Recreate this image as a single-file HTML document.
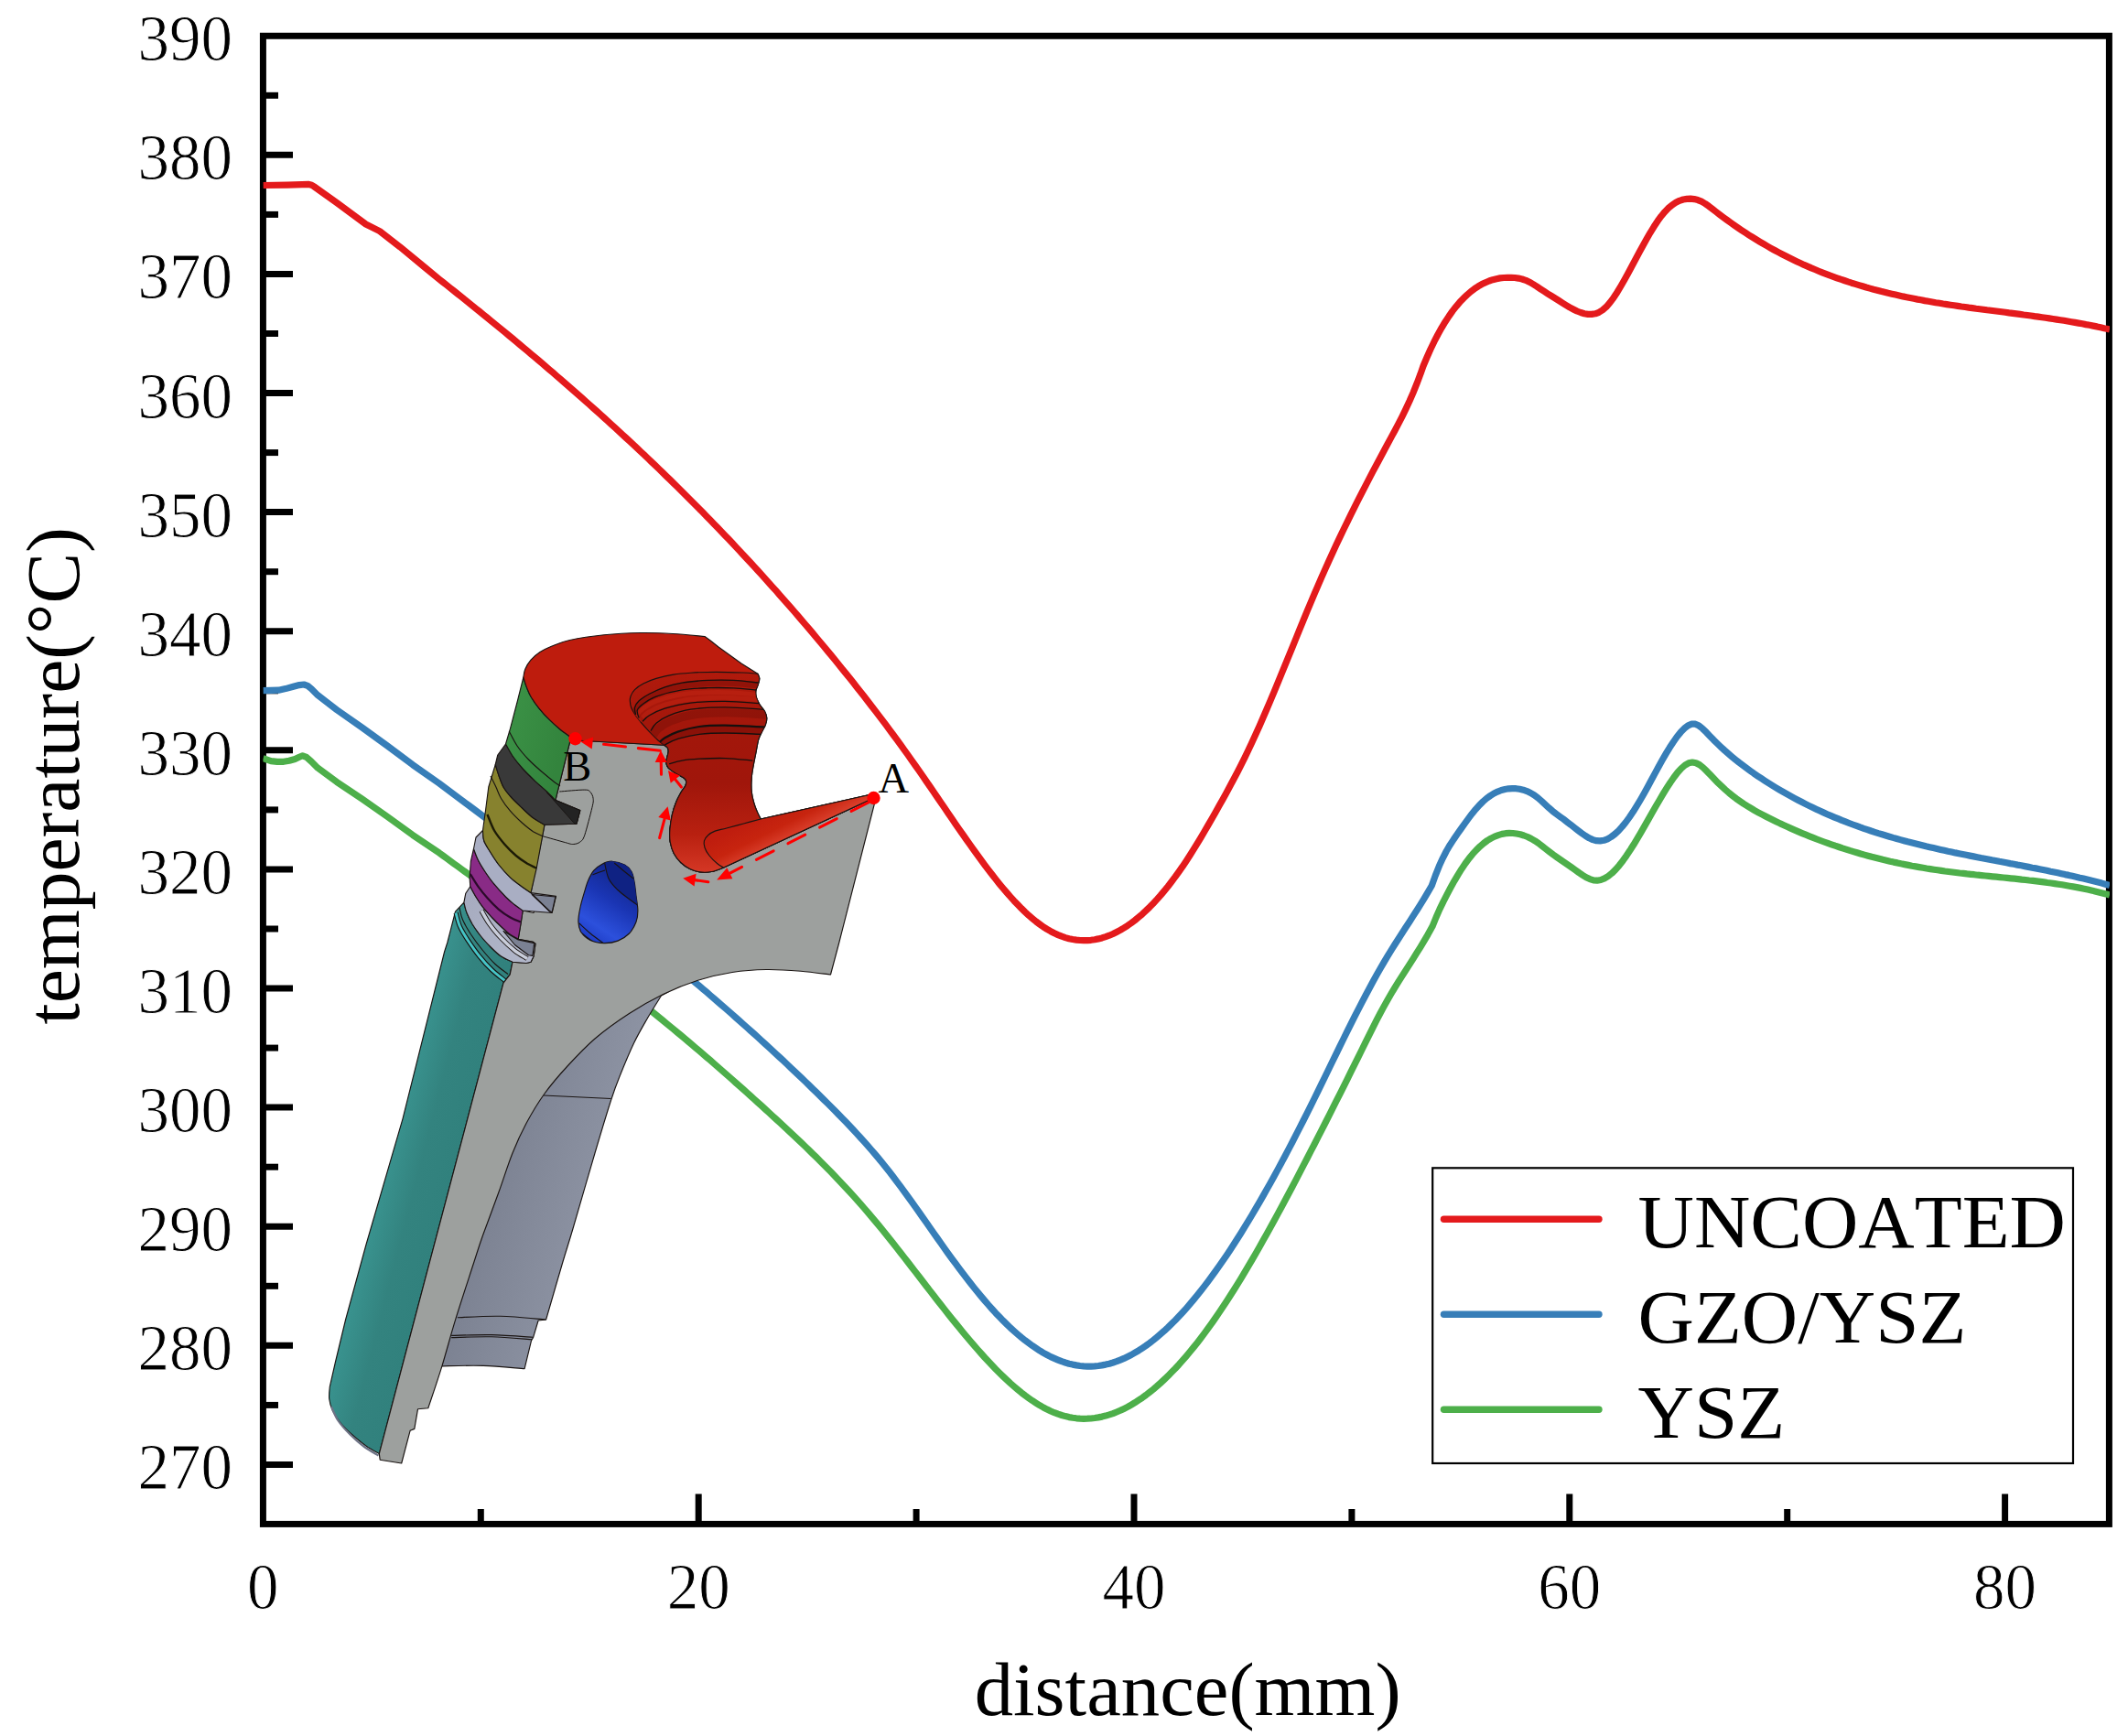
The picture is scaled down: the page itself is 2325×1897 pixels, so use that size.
<!DOCTYPE html>
<html lang="en"><head><meta charset="utf-8"><title>temperature vs distance</title>
<style>
html,body{margin:0;padding:0;background:#fff}
body{width:2325px;height:1897px;overflow:hidden}
svg{display:block}
text{font-kerning:none;font-variant-ligatures:none}
.tk{font-family:"Liberation Serif","Noto Serif CJK SC",serif;font-size:71px;fill:#000;stroke:#fff;stroke-width:.9px}
.tt{font-family:"Liberation Serif",serif;font-size:83.5px;fill:#000}
.lb{font-family:"Liberation Serif",serif;font-size:46.5px;fill:#000}
</style></head><body>
<svg width="2325" height="1897" viewBox="0 0 2325 1897">
<rect width="2325" height="1897" fill="#fff"/>
<defs><clipPath id="pc"><rect x="287.4" y="39.25" width="2017.6" height="1626.15"/></clipPath></defs>

<g stroke="#000" stroke-width="7.0" fill="none">
<path d="M287.4,1600.4H320"/>
<path d="M287.4,1470.3H320"/>
<path d="M287.4,1340.2H320"/>
<path d="M287.4,1210.1H320"/>
<path d="M287.4,1080.0H320"/>
<path d="M287.4,949.9H320"/>
<path d="M287.4,819.8H320"/>
<path d="M287.4,689.7H320"/>
<path d="M287.4,559.6H320"/>
<path d="M287.4,429.5H320"/>
<path d="M287.4,299.4H320"/>
<path d="M287.4,169.3H320"/>
<path d="M287.4,1535.4H304"/>
<path d="M287.4,1405.3H304"/>
<path d="M287.4,1275.2H304"/>
<path d="M287.4,1145.1H304"/>
<path d="M287.4,1015.0H304"/>
<path d="M287.4,884.9H304"/>
<path d="M287.4,754.8H304"/>
<path d="M287.4,624.7H304"/>
<path d="M287.4,494.6H304"/>
<path d="M287.4,364.5H304"/>
<path d="M287.4,234.4H304"/>
<path d="M287.4,104.3H304"/>
<path d="M763.2,1665.4V1632.5"/>
<path d="M1239.0,1665.4V1632.5"/>
<path d="M1714.8,1665.4V1632.5"/>
<path d="M2190.6,1665.4V1632.5"/>
<path d="M525.3,1665.4V1649"/>
<path d="M1001.1,1665.4V1649"/>
<path d="M1476.9,1665.4V1649"/>
<path d="M1952.7,1665.4V1649"/>
<rect x="287.4" y="39.25" width="2017.0" height="1626.15"/>
</g>
<g clip-path="url(#pc)" fill="none" stroke-linejoin="round" stroke-width="7.2">
<path d="M287.4,828.6L296.1,831.6L303.0,832.4L309.9,832.3L316.0,831.3L322.3,829.5L327.0,827.3L330.6,825.8L334.8,827.4L340.0,832.0L347.2,839.2L367.9,854.4L395.6,873.1L423.2,892.4L450.9,912.4L480.0,932.1L484.0,935.0L488.0,937.9L492.0,940.9L496.0,943.8L500.0,946.7L504.0,949.6L508.0,952.5L512.0,955.4L516.0,958.3L520.0,961.2L524.0,964.1L528.0,967.0L532.0,969.9L536.0,972.8L540.0,975.7L544.0,978.6L548.0,981.5L552.0,984.4L556.0,987.3L560.0,990.2L564.0,993.1L568.0,996.0L572.0,998.9L576.0,1001.8L580.0,1004.8L584.0,1007.7L588.0,1010.6L592.0,1013.5L596.0,1016.5L600.0,1019.4L604.0,1022.4L608.0,1025.3L612.0,1028.3L616.0,1031.2L620.0,1034.2L624.0,1037.2L628.0,1040.2L632.0,1043.1L636.0,1046.1L640.0,1049.2L644.0,1052.2L648.0,1055.2L652.0,1058.2L656.0,1061.3L660.0,1064.3L664.0,1067.4L668.0,1070.5L672.0,1073.6L676.0,1076.7L680.0,1079.8L684.0,1082.9L688.0,1086.0L692.0,1089.2L696.0,1092.4L700.0,1095.5L704.0,1098.7L708.0,1101.9L712.0,1105.1L716.0,1108.4L720.0,1111.6L724.0,1114.9L728.0,1118.2L732.0,1121.5L736.0,1124.8L740.0,1128.1L744.0,1131.4L748.0,1134.8L752.0,1138.1L756.0,1141.5L760.0,1144.9L764.0,1148.3L768.0,1151.7L772.0,1155.2L776.0,1158.6L780.0,1162.1L784.0,1165.6L788.0,1169.1L792.0,1172.6L796.0,1176.1L800.0,1179.6L804.0,1183.2L808.0,1186.7L812.0,1190.3L816.0,1193.9L820.0,1197.5L824.0,1201.1L828.0,1204.7L832.0,1208.3L836.0,1212.0L840.0,1215.6L844.0,1219.3L848.0,1223.0L852.0,1226.7L856.0,1230.4L860.0,1234.1L864.0,1237.9L868.0,1241.6L872.0,1245.4L876.0,1249.2L880.0,1253.0L884.0,1256.9L888.0,1260.8L892.0,1264.7L896.0,1268.7L900.0,1272.7L904.0,1276.8L908.0,1280.8L912.0,1285.0L916.0,1289.2L920.0,1293.4L924.0,1297.7L928.0,1302.0L932.0,1306.4L936.0,1310.9L940.0,1315.4L944.0,1320.0L948.0,1324.6L952.0,1329.3L956.0,1334.1L960.0,1338.9L964.0,1343.8L968.0,1348.8L972.0,1353.8L976.0,1358.8L980.0,1363.9L984.0,1369.0L988.0,1374.1L992.0,1379.3L996.0,1384.5L1000.0,1389.6L1004.0,1394.8L1008.0,1400.0L1012.0,1405.2L1016.0,1410.4L1020.0,1415.5L1024.0,1420.7L1028.0,1425.8L1032.0,1430.9L1036.0,1435.9L1040.0,1441.0L1044.0,1445.9L1048.0,1450.8L1052.0,1455.7L1056.0,1460.5L1060.0,1465.3L1064.0,1469.9L1068.0,1474.5L1072.0,1479.0L1076.0,1483.5L1080.0,1487.8L1084.0,1492.0L1088.0,1496.2L1092.0,1500.2L1096.0,1504.1L1100.0,1507.9L1104.0,1511.6L1108.0,1515.1L1112.0,1518.5L1116.0,1521.8L1120.0,1524.9L1124.0,1527.8L1128.0,1530.6L1132.0,1533.2L1136.0,1535.7L1140.0,1538.0L1144.0,1540.1L1148.0,1542.0L1152.0,1543.7L1156.0,1545.2L1160.0,1546.5L1164.0,1547.6L1168.0,1548.6L1172.0,1549.3L1176.0,1549.8L1180.0,1550.1L1184.0,1550.3L1188.0,1550.2L1192.0,1550.0L1196.0,1549.5L1200.0,1548.9L1204.0,1548.1L1208.0,1547.1L1212.0,1545.9L1216.0,1544.6L1220.0,1543.0L1224.0,1541.3L1228.0,1539.4L1232.0,1537.4L1236.0,1535.1L1240.0,1532.7L1244.0,1530.1L1248.0,1527.4L1252.0,1524.5L1256.0,1521.4L1260.0,1518.2L1264.0,1514.8L1268.0,1511.2L1272.0,1507.5L1276.0,1503.7L1280.0,1499.6L1284.0,1495.5L1288.0,1491.2L1292.0,1486.7L1296.0,1482.1L1300.0,1477.3L1304.0,1472.4L1308.0,1467.4L1312.0,1462.2L1316.0,1456.9L1320.0,1451.4L1324.0,1445.9L1328.0,1440.1L1332.0,1434.3L1336.0,1428.3L1340.0,1422.2L1344.0,1416.0L1348.0,1409.7L1352.0,1403.3L1356.0,1396.8L1360.0,1390.1L1364.0,1383.4L1368.0,1376.6L1372.0,1369.7L1376.0,1362.7L1380.0,1355.6L1384.0,1348.5L1388.0,1341.3L1392.0,1334.0L1396.0,1326.6L1400.0,1319.2L1404.0,1311.8L1408.0,1304.2L1412.0,1296.7L1416.0,1289.1L1420.0,1281.4L1424.0,1273.7L1428.0,1266.0L1432.0,1258.2L1436.0,1250.5L1440.0,1242.7L1444.0,1234.8L1448.0,1227.0L1452.0,1219.1L1456.0,1211.2L1460.0,1203.2L1464.0,1195.3L1468.0,1187.3L1472.0,1179.3L1476.0,1171.2L1480.0,1163.2L1484.0,1155.1L1488.0,1147.0L1492.0,1138.9L1496.0,1130.8L1500.0,1122.8L1504.0,1114.9L1508.0,1107.3L1512.0,1099.9L1516.0,1092.7L1520.0,1085.8L1524.0,1079.2L1528.0,1072.7L1532.0,1066.4L1536.0,1060.1L1540.0,1053.9L1544.0,1047.6L1548.0,1041.2L1552.0,1034.8L1556.0,1028.1L1560.0,1021.3L1564.0,1014.1L1565.0,1012.3L1569.0,1002.5L1573.0,993.4L1577.0,985.1L1581.0,977.3L1585.0,969.8L1589.0,962.6L1593.0,955.8L1597.0,949.4L1601.0,943.5L1605.0,938.1L1609.0,933.2L1613.0,928.8L1617.0,924.9L1621.0,921.5L1625.0,918.5L1629.0,916.1L1633.0,914.1L1637.0,912.6L1641.0,911.4L1645.0,910.7L1649.0,910.4L1653.0,910.5L1657.0,911.0L1661.0,911.8L1665.0,913.0L1669.0,914.5L1673.0,916.5L1677.0,918.8L1681.0,921.5L1685.0,924.6L1689.0,927.8L1693.0,930.9L1697.0,933.9L1701.0,936.7L1705.0,939.5L1709.0,942.2L1713.0,944.9L1717.0,947.7L1721.0,950.6L1725.0,953.5L1729.0,956.2L1733.0,958.7L1737.0,960.6L1741.0,961.9L1745.0,962.2L1749.0,961.5L1753.0,959.9L1757.0,957.5L1761.0,954.3L1765.0,950.4L1769.0,945.8L1773.0,940.7L1777.0,935.1L1781.0,929.1L1785.0,922.8L1789.0,916.1L1793.0,909.3L1797.0,902.4L1801.0,895.4L1805.0,888.3L1809.0,881.3L1813.0,874.5L1817.0,867.7L1821.0,861.2L1825.0,855.0L1829.0,849.2L1833.0,844.0L1837.0,839.6L1841.0,836.1L1845.0,833.8L1849.0,833.0L1853.0,833.7L1857.0,835.8L1861.0,839.0L1865.0,842.9L1869.0,847.1L1873.0,851.3L1877.0,855.4L1881.0,859.2L1885.0,862.9L1889.0,866.4L1893.0,869.6L1897.0,872.7L1901.0,875.5L1905.0,878.3L1909.0,880.8L1913.0,883.2L1917.0,885.6L1921.0,887.8L1925.0,889.9L1929.0,892.0L1933.0,894.0L1937.0,896.0L1941.0,897.9L1945.0,899.9L1949.0,901.7L1953.0,903.6L1957.0,905.4L1961.0,907.1L1965.0,908.9L1969.0,910.6L1973.0,912.2L1977.0,913.8L1981.0,915.4L1985.0,917.0L1989.0,918.5L1993.0,920.0L1997.0,921.4L2001.0,922.8L2005.0,924.2L2009.0,925.5L2013.0,926.9L2017.0,928.1L2021.0,929.4L2025.0,930.6L2029.0,931.8L2033.0,933.0L2037.0,934.1L2041.0,935.2L2045.0,936.3L2049.0,937.3L2053.0,938.3L2057.0,939.3L2061.0,940.2L2065.0,941.2L2069.0,942.1L2073.0,942.9L2077.0,943.8L2081.0,944.6L2085.0,945.4L2089.0,946.2L2093.0,946.9L2097.0,947.6L2101.0,948.3L2105.0,949.0L2109.0,949.6L2113.0,950.2L2117.0,950.8L2121.0,951.4L2125.0,952.0L2129.0,952.5L2133.0,953.0L2137.0,953.5L2141.0,954.0L2145.0,954.4L2149.0,954.9L2153.0,955.3L2157.0,955.7L2161.0,956.2L2165.0,956.6L2169.0,957.0L2173.0,957.4L2177.0,957.8L2181.0,958.2L2185.0,958.6L2189.0,959.0L2193.0,959.4L2197.0,959.8L2201.0,960.2L2205.0,960.6L2209.0,961.1L2213.0,961.5L2217.0,962.0L2221.0,962.4L2225.0,962.9L2229.0,963.4L2233.0,963.9L2237.0,964.5L2241.0,965.0L2245.0,965.6L2249.0,966.2L2253.0,966.8L2257.0,967.5L2261.0,968.2L2265.0,968.9L2269.0,969.6L2273.0,970.4L2277.0,971.2L2281.0,972.1L2285.0,973.0L2289.0,973.9L2293.0,974.9L2297.0,975.9L2301.0,976.9L2305.0,978.0" stroke="#4daf4a"/>
<path d="M287.4,754.6L304.4,754.2L312.0,752.6L319.6,750.5L327.0,748.6L332.0,748.0L336.1,749.4L340.0,752.5L347.2,759.7L367.9,775.6L395.6,795.0L423.2,815.0L450.9,835.7L480.0,856.1L484.0,859.1L488.0,862.1L492.0,865.1L496.0,868.1L500.0,871.1L504.0,874.1L508.0,877.1L512.0,880.0L516.0,883.0L520.0,886.0L524.0,889.0L528.0,892.0L532.0,895.0L536.0,898.0L540.0,901.0L544.0,904.0L548.0,907.0L552.0,910.0L556.0,913.0L560.0,916.0L564.0,919.1L568.0,922.1L572.0,925.1L576.0,928.1L580.0,931.1L584.0,934.2L588.0,937.2L592.0,940.2L596.0,943.3L600.0,946.3L604.0,949.4L608.0,952.4L612.0,955.5L616.0,958.5L620.0,961.6L624.0,964.7L628.0,967.8L632.0,970.9L636.0,973.9L640.0,977.0L644.0,980.2L648.0,983.3L652.0,986.4L656.0,989.5L660.0,992.6L664.0,995.8L668.0,998.9L672.0,1002.1L676.0,1005.3L680.0,1008.4L684.0,1011.6L688.0,1014.8L692.0,1018.0L696.0,1021.2L700.0,1024.4L704.0,1027.7L708.0,1030.9L712.0,1034.1L716.0,1037.4L720.0,1040.7L724.0,1043.9L728.0,1047.2L732.0,1050.5L736.0,1053.8L740.0,1057.2L744.0,1060.5L748.0,1063.8L752.0,1067.2L756.0,1070.5L760.0,1073.9L764.0,1077.3L768.0,1080.7L772.0,1084.1L776.0,1087.6L780.0,1091.0L784.0,1094.5L788.0,1097.9L792.0,1101.4L796.0,1104.9L800.0,1108.4L804.0,1112.0L808.0,1115.5L812.0,1119.1L816.0,1122.6L820.0,1126.2L824.0,1129.8L828.0,1133.4L832.0,1137.1L836.0,1140.7L840.0,1144.4L844.0,1148.1L848.0,1151.8L852.0,1155.5L856.0,1159.2L860.0,1163.0L864.0,1166.8L868.0,1170.6L872.0,1174.4L876.0,1178.2L880.0,1182.0L884.0,1185.9L888.0,1189.8L892.0,1193.7L896.0,1197.6L900.0,1201.6L904.0,1205.5L908.0,1209.5L912.0,1213.6L916.0,1217.6L920.0,1221.7L924.0,1225.8L928.0,1230.0L932.0,1234.3L936.0,1238.6L940.0,1243.0L944.0,1247.4L948.0,1251.9L952.0,1256.5L956.0,1261.2L960.0,1265.9L964.0,1270.8L968.0,1275.8L972.0,1280.8L976.0,1286.0L980.0,1291.3L984.0,1296.6L988.0,1302.1L992.0,1307.6L996.0,1313.1L1000.0,1318.8L1004.0,1324.4L1008.0,1330.1L1012.0,1335.8L1016.0,1341.5L1020.0,1347.2L1024.0,1352.9L1028.0,1358.5L1032.0,1364.2L1036.0,1369.8L1040.0,1375.3L1044.0,1380.7L1048.0,1386.1L1052.0,1391.4L1056.0,1396.7L1060.0,1401.8L1064.0,1406.9L1068.0,1411.8L1072.0,1416.6L1076.0,1421.4L1080.0,1426.0L1084.0,1430.5L1088.0,1434.9L1092.0,1439.1L1096.0,1443.2L1100.0,1447.1L1104.0,1451.0L1108.0,1454.6L1112.0,1458.1L1116.0,1461.5L1120.0,1464.7L1124.0,1467.7L1128.0,1470.6L1132.0,1473.3L1136.0,1475.9L1140.0,1478.3L1144.0,1480.5L1148.0,1482.6L1152.0,1484.4L1156.0,1486.1L1160.0,1487.7L1164.0,1489.0L1168.0,1490.2L1172.0,1491.1L1176.0,1491.9L1180.0,1492.5L1184.0,1492.9L1188.0,1493.1L1192.0,1493.1L1196.0,1492.9L1200.0,1492.5L1204.0,1491.9L1208.0,1491.1L1212.0,1490.2L1216.0,1489.0L1220.0,1487.7L1224.0,1486.1L1228.0,1484.4L1232.0,1482.5L1236.0,1480.5L1240.0,1478.2L1244.0,1475.8L1248.0,1473.2L1252.0,1470.5L1256.0,1467.6L1260.0,1464.5L1264.0,1461.2L1268.0,1457.8L1272.0,1454.3L1276.0,1450.6L1280.0,1446.7L1284.0,1442.7L1288.0,1438.5L1292.0,1434.2L1296.0,1429.8L1300.0,1425.2L1304.0,1420.4L1308.0,1415.5L1312.0,1410.5L1316.0,1405.4L1320.0,1400.1L1324.0,1394.7L1328.0,1389.2L1332.0,1383.5L1336.0,1377.8L1340.0,1371.9L1344.0,1365.9L1348.0,1359.8L1352.0,1353.5L1356.0,1347.2L1360.0,1340.7L1364.0,1334.2L1368.0,1327.5L1372.0,1320.7L1376.0,1313.9L1380.0,1306.9L1384.0,1299.8L1388.0,1292.7L1392.0,1285.5L1396.0,1278.1L1400.0,1270.7L1404.0,1263.2L1408.0,1255.6L1412.0,1248.0L1416.0,1240.2L1420.0,1232.4L1424.0,1224.5L1428.0,1216.6L1432.0,1208.6L1436.0,1200.5L1440.0,1192.3L1444.0,1184.2L1448.0,1176.0L1452.0,1167.7L1456.0,1159.5L1460.0,1151.3L1464.0,1143.1L1468.0,1135.0L1472.0,1126.9L1476.0,1118.9L1480.0,1110.9L1484.0,1103.1L1488.0,1095.3L1492.0,1087.7L1496.0,1080.2L1500.0,1072.8L1504.0,1065.6L1508.0,1058.5L1512.0,1051.6L1516.0,1044.9L1520.0,1038.4L1524.0,1032.0L1528.0,1025.7L1532.0,1019.5L1536.0,1013.3L1540.0,1007.2L1544.0,1000.9L1548.0,994.7L1552.0,988.3L1556.0,981.8L1560.0,975.1L1564.3,967.7L1568.3,956.6L1572.3,946.6L1576.3,937.8L1580.3,930.0L1584.3,923.2L1588.3,917.1L1592.3,911.3L1596.3,905.6L1600.3,900.0L1604.3,894.5L1608.3,889.2L1612.3,884.3L1616.3,879.8L1620.3,875.9L1624.3,872.4L1628.3,869.5L1632.3,867.0L1636.3,865.1L1640.3,863.5L1644.3,862.5L1648.3,861.8L1652.3,861.6L1656.3,861.7L1660.3,862.3L1664.3,863.2L1668.3,864.6L1672.3,866.5L1676.3,868.9L1680.3,871.9L1684.3,875.4L1688.3,879.1L1692.3,882.8L1696.3,886.3L1700.3,889.4L1704.3,892.3L1708.3,895.2L1712.3,898.3L1716.3,901.3L1720.3,904.5L1724.3,907.6L1728.3,910.6L1732.3,913.4L1736.3,915.8L1740.3,917.6L1744.3,918.7L1748.3,918.9L1752.3,918.3L1756.3,916.8L1760.3,914.5L1764.3,911.5L1768.3,907.8L1772.3,903.4L1776.3,898.5L1780.3,893.0L1784.3,887.1L1788.3,880.7L1792.3,874.0L1796.3,867.0L1800.3,859.7L1804.3,852.3L1808.3,844.9L1812.3,837.5L1816.3,830.3L1820.3,823.4L1824.3,816.8L1828.3,810.7L1832.3,805.0L1836.3,800.1L1840.3,795.9L1844.3,792.8L1848.3,791.2L1852.3,791.2L1856.3,793.1L1860.3,796.3L1864.3,800.2L1868.3,804.4L1872.3,808.6L1876.3,812.5L1880.3,816.3L1884.3,820.0L1888.3,823.5L1892.3,826.9L1896.3,830.2L1900.3,833.4L1904.3,836.4L1908.3,839.4L1912.3,842.3L1916.3,845.2L1920.3,847.9L1924.3,850.6L1928.3,853.2L1932.3,855.7L1936.3,858.2L1940.3,860.7L1944.3,863.1L1948.3,865.4L1952.3,867.7L1956.3,869.9L1960.3,872.1L1964.3,874.2L1968.3,876.3L1972.3,878.4L1976.3,880.4L1980.3,882.3L1984.3,884.2L1988.3,886.1L1992.3,887.9L1996.3,889.7L2000.3,891.4L2004.3,893.1L2008.3,894.7L2012.3,896.4L2016.3,897.9L2020.3,899.5L2024.3,901.0L2028.3,902.4L2032.3,903.9L2036.3,905.3L2040.3,906.6L2044.3,908.0L2048.3,909.3L2052.3,910.6L2056.3,911.8L2060.3,913.0L2064.3,914.2L2068.3,915.4L2072.3,916.5L2076.3,917.6L2080.3,918.7L2084.3,919.8L2088.3,920.8L2092.3,921.8L2096.3,922.8L2100.3,923.8L2104.3,924.8L2108.3,925.7L2112.3,926.6L2116.3,927.5L2120.3,928.4L2124.3,929.3L2128.3,930.2L2132.3,931.0L2136.3,931.9L2140.3,932.7L2144.3,933.5L2148.3,934.3L2152.3,935.1L2156.3,935.9L2160.3,936.7L2164.3,937.5L2168.3,938.2L2172.3,939.0L2176.3,939.8L2180.3,940.5L2184.3,941.3L2188.3,942.0L2192.3,942.8L2196.3,943.6L2200.3,944.3L2204.3,945.1L2208.3,945.8L2212.3,946.6L2216.3,947.4L2220.3,948.2L2224.3,948.9L2228.3,949.7L2232.3,950.5L2236.3,951.3L2240.3,952.2L2244.3,953.0L2248.3,953.8L2252.3,954.7L2256.3,955.6L2260.3,956.4L2264.3,957.3L2268.3,958.2L2272.3,959.2L2276.3,960.1L2280.3,961.1L2284.3,962.1L2288.3,963.1L2292.3,964.1L2296.3,965.1L2300.3,966.2L2304.3,967.3L2305.0,967.5" stroke="#377eb8"/>
<path d="M287.4,202.5L314.0,202.1L330.0,201.6L337.5,201.4L340.5,202.2L343.0,203.8L367.9,221.5L399.7,245.0L414.9,252.6L437.0,269.8L464.7,292.6L480.0,305.2L484.0,308.4L488.0,311.5L492.0,314.7L496.0,317.9L500.0,321.1L504.0,324.3L508.0,327.5L512.0,330.7L516.0,334.0L520.0,337.2L524.0,340.4L528.0,343.7L532.0,346.9L536.0,350.2L540.0,353.5L544.0,356.7L548.0,360.0L552.0,363.3L556.0,366.6L560.0,369.9L564.0,373.3L568.0,376.6L572.0,380.0L576.0,383.3L580.0,386.7L584.0,390.1L588.0,393.4L592.0,396.8L596.0,400.3L600.0,403.7L604.0,407.1L608.0,410.6L612.0,414.0L616.0,417.5L620.0,421.0L624.0,424.5L628.0,428.0L632.0,431.5L636.0,435.0L640.0,438.6L644.0,442.1L648.0,445.7L652.0,449.3L656.0,452.9L660.0,456.5L664.0,460.1L668.0,463.8L672.0,467.4L676.0,471.1L680.0,474.8L684.0,478.5L688.0,482.2L692.0,485.9L696.0,489.7L700.0,493.5L704.0,497.2L708.0,501.0L712.0,504.9L716.0,508.7L720.0,512.5L724.0,516.4L728.0,520.3L732.0,524.2L736.0,528.1L740.0,532.0L744.0,536.0L748.0,540.0L752.0,544.0L756.0,548.0L760.0,552.0L764.0,556.0L768.0,560.1L772.0,564.2L776.0,568.3L780.0,572.4L784.0,576.6L788.0,580.7L792.0,584.9L796.0,589.1L800.0,593.3L804.0,597.6L808.0,601.9L812.0,606.2L816.0,610.5L820.0,614.8L824.0,619.2L828.0,623.5L832.0,627.9L836.0,632.3L840.0,636.8L844.0,641.3L848.0,645.7L852.0,650.3L856.0,654.8L860.0,659.3L864.0,663.9L868.0,668.5L872.0,673.2L876.0,677.8L880.0,682.5L884.0,687.2L888.0,691.9L892.0,696.7L896.0,701.5L900.0,706.3L904.0,711.1L908.0,715.9L912.0,720.8L916.0,725.7L920.0,730.7L924.0,735.6L928.0,740.6L932.0,745.6L936.0,750.7L940.0,755.7L944.0,760.8L948.0,766.0L952.0,771.2L956.0,776.4L960.0,781.6L964.0,786.9L968.0,792.2L972.0,797.6L976.0,803.0L980.0,808.4L984.0,813.9L988.0,819.5L992.0,825.0L996.0,830.7L1000.0,836.3L1004.0,842.0L1008.0,847.8L1012.0,853.6L1016.0,859.4L1020.0,865.3L1024.0,871.1L1028.0,877.0L1032.0,882.8L1036.0,888.7L1040.0,894.5L1044.0,900.4L1048.0,906.2L1052.0,911.9L1056.0,917.6L1060.0,923.3L1064.0,928.9L1068.0,934.4L1072.0,939.9L1076.0,945.3L1080.0,950.6L1084.0,955.8L1088.0,960.9L1092.0,965.9L1096.0,970.7L1100.0,975.4L1104.0,980.0L1108.0,984.4L1112.0,988.6L1116.0,992.7L1120.0,996.6L1124.0,1000.3L1128.0,1003.7L1132.0,1007.0L1136.0,1010.0L1140.0,1012.9L1144.0,1015.4L1148.0,1017.7L1152.0,1019.8L1156.0,1021.6L1160.0,1023.2L1164.0,1024.6L1168.0,1025.7L1172.0,1026.5L1176.0,1027.1L1180.0,1027.5L1184.0,1027.7L1188.0,1027.6L1192.0,1027.3L1196.0,1026.7L1200.0,1025.9L1204.0,1024.9L1208.0,1023.6L1212.0,1022.2L1216.0,1020.5L1220.0,1018.5L1224.0,1016.4L1228.0,1014.0L1232.0,1011.4L1236.0,1008.6L1240.0,1005.6L1244.0,1002.3L1248.0,998.9L1252.0,995.2L1256.0,991.3L1260.0,987.2L1264.0,982.9L1268.0,978.4L1272.0,973.6L1276.0,968.7L1280.0,963.5L1284.0,958.2L1288.0,952.6L1292.0,946.9L1296.0,940.9L1300.0,934.8L1304.0,928.4L1308.0,921.9L1312.0,915.3L1316.0,908.5L1320.0,901.6L1324.0,894.7L1328.0,887.7L1332.0,880.6L1336.0,873.4L1340.0,866.2L1344.0,858.8L1348.0,851.3L1352.0,843.7L1356.0,835.8L1360.0,827.8L1364.0,819.5L1368.0,811.0L1372.0,802.3L1376.0,793.4L1380.0,784.3L1384.0,775.0L1388.0,765.6L1392.0,756.1L1396.0,746.4L1400.0,736.7L1404.0,726.9L1408.0,717.1L1412.0,707.3L1416.0,697.5L1420.0,687.7L1424.0,677.9L1428.0,668.2L1432.0,658.7L1436.0,649.2L1440.0,639.8L1444.0,630.6L1448.0,621.6L1452.0,612.7L1456.0,604.0L1460.0,595.3L1464.0,586.9L1468.0,578.5L1472.0,570.3L1476.0,562.1L1480.0,554.1L1484.0,546.2L1488.0,538.3L1492.0,530.6L1496.0,522.9L1500.0,515.2L1504.0,507.7L1508.0,500.2L1512.0,492.7L1516.0,485.3L1520.0,477.9L1524.0,470.5L1528.0,462.9L1532.0,455.1L1536.0,446.9L1540.0,438.3L1544.0,429.1L1548.0,419.2L1552.0,408.6L1555.0,400.0L1559.0,390.5L1563.0,381.5L1567.0,373.2L1571.0,365.5L1575.0,358.3L1579.0,351.7L1583.0,345.6L1587.0,339.9L1591.0,334.8L1595.0,330.1L1599.0,325.9L1603.0,322.1L1607.0,318.6L1611.0,315.6L1615.0,312.9L1619.0,310.6L1623.0,308.7L1627.0,307.0L1631.0,305.7L1635.0,304.7L1639.0,303.9L1643.0,303.5L1647.0,303.3L1651.0,303.3L1655.0,303.5L1659.0,304.1L1663.0,305.0L1667.0,306.3L1671.0,308.2L1675.0,310.5L1679.0,313.0L1683.0,315.7L1687.0,318.3L1691.0,320.9L1695.0,323.4L1699.0,325.9L1703.0,328.4L1707.0,331.0L1711.0,333.5L1715.0,335.9L1719.0,338.0L1723.0,340.0L1727.0,341.5L1731.0,342.7L1735.0,343.4L1739.0,343.4L1743.0,342.8L1747.0,341.3L1751.0,338.8L1755.0,335.3L1759.0,330.7L1763.0,325.3L1767.0,319.2L1771.0,312.5L1775.0,305.5L1779.0,298.2L1783.0,290.7L1787.0,283.2L1791.0,275.7L1795.0,268.4L1799.0,261.2L1803.0,254.3L1807.0,247.8L1811.0,241.7L1815.0,236.2L1819.0,231.4L1823.0,227.3L1827.0,223.9L1831.0,221.3L1835.0,219.3L1839.0,218.0L1843.0,217.4L1847.0,217.2L1851.0,217.6L1855.0,218.6L1859.0,220.2L1863.0,222.5L1867.0,225.3L1871.0,228.4L1875.0,231.5L1879.0,234.6L1883.0,237.6L1887.0,240.5L1891.0,243.4L1895.0,246.2L1899.0,249.0L1903.0,251.7L1907.0,254.3L1911.0,256.9L1915.0,259.4L1919.0,261.9L1923.0,264.3L1927.0,266.7L1931.0,269.0L1935.0,271.3L1939.0,273.5L1943.0,275.6L1947.0,277.7L1951.0,279.8L1955.0,281.8L1959.0,283.8L1963.0,285.7L1967.0,287.5L1971.0,289.4L1975.0,291.1L1979.0,292.9L1983.0,294.5L1987.0,296.2L1991.0,297.8L1995.0,299.3L1999.0,300.9L2003.0,302.3L2007.0,303.8L2011.0,305.2L2015.0,306.5L2019.0,307.9L2023.0,309.2L2027.0,310.4L2031.0,311.6L2035.0,312.8L2039.0,314.0L2043.0,315.1L2047.0,316.2L2051.0,317.2L2055.0,318.3L2059.0,319.3L2063.0,320.3L2067.0,321.2L2071.0,322.1L2075.0,323.0L2079.0,323.9L2083.0,324.7L2087.0,325.5L2091.0,326.3L2095.0,327.1L2099.0,327.8L2103.0,328.6L2107.0,329.3L2111.0,330.0L2115.0,330.7L2119.0,331.3L2123.0,332.0L2127.0,332.6L2131.0,333.2L2135.0,333.8L2139.0,334.4L2143.0,335.0L2147.0,335.5L2151.0,336.1L2155.0,336.6L2159.0,337.2L2163.0,337.7L2167.0,338.2L2171.0,338.8L2175.0,339.3L2179.0,339.8L2183.0,340.3L2187.0,340.8L2191.0,341.3L2195.0,341.9L2199.0,342.4L2203.0,342.9L2207.0,343.4L2211.0,344.0L2215.0,344.5L2219.0,345.0L2223.0,345.6L2227.0,346.1L2231.0,346.7L2235.0,347.3L2239.0,347.9L2243.0,348.5L2247.0,349.1L2251.0,349.7L2255.0,350.3L2259.0,351.0L2263.0,351.7L2267.0,352.4L2271.0,353.1L2275.0,353.8L2279.0,354.6L2283.0,355.3L2287.0,356.1L2291.0,356.9L2295.0,357.8L2299.0,358.7L2303.0,359.5L2305.0,360.0" stroke="#e41a1c"/>
</g>
<defs>
<linearGradient id="gTeal" gradientUnits="userSpaceOnUse" x1="420" y1="1240" x2="520" y2="1266"><stop offset="0" stop-color="#3b9793"/><stop offset=".45" stop-color="#33837f"/><stop offset="1" stop-color="#30807c"/></linearGradient>
<linearGradient id="gSlate" gradientUnits="userSpaceOnUse" x1="540" y1="1300" x2="650" y2="1330"><stop offset="0" stop-color="#7d8393"/><stop offset="1" stop-color="#8d93a3"/></linearGradient>
<linearGradient id="gBowl" gradientUnits="userSpaceOnUse" x1="770" y1="735" x2="770" y2="955"><stop offset="0" stop-color="#b01a0c"/><stop offset=".25" stop-color="#a3170b"/><stop offset=".55" stop-color="#a0160b"/><stop offset=".8" stop-color="#b82010"/><stop offset="1" stop-color="#d63826"/></linearGradient>
<linearGradient id="gCone" gradientUnits="userSpaceOnUse" x1="846" y1="884" x2="866" y2="924"><stop offset="0" stop-color="#bf1d0e"/><stop offset=".45" stop-color="#c7240f"/><stop offset="1" stop-color="#e34d3a"/></linearGradient>
<linearGradient id="gBlue" gradientUnits="userSpaceOnUse" x1="690" y1="950" x2="640" y2="1025"><stop offset="0" stop-color="#10227f"/><stop offset=".45" stop-color="#1a35b4"/><stop offset=".8" stop-color="#2c50dc"/><stop offset="1" stop-color="#1d3bc4"/></linearGradient>
<linearGradient id="gGreen" gradientUnits="userSpaceOnUse" x1="556" y1="800" x2="615" y2="815"><stop offset="0" stop-color="#3a9045"/><stop offset="1" stop-color="#33843d"/></linearGradient>
<linearGradient id="gLav" gradientUnits="userSpaceOnUse" x1="510" y1="990" x2="585" y2="1040"><stop offset="0" stop-color="#a7acc0"/><stop offset="1" stop-color="#b2b7ca"/></linearGradient>
</defs>
<g id="piston">
<path d="M730.0,1084.0L722.5,1088.0C720.0,1092.1 712.5,1103.8 707.5,1112.5C702.5,1121.2 697.5,1129.6 692.5,1140.0C687.5,1150.4 681.7,1164.6 677.5,1175.0C673.3,1185.4 672.1,1188.3 667.5,1202.5C662.9,1216.7 656.9,1236.7 650.0,1260.0C643.1,1283.3 631.9,1322.5 626.0,1342.5C620.1,1362.5 619.5,1363.4 614.6,1380.0C609.7,1396.6 599.6,1431.7 596.6,1442.0L588.1,1443.0L582.5,1461.8L580.6,1464.6L573.1,1495.6L573.1,1495.6C565.6,1495.1 543.0,1492.9 528.0,1492.4C513.0,1491.9 490.4,1492.7 482.9,1492.8L465.0,1500.0L500.0,1300.0L580.0,1150.0L690.0,1075.0Z" fill="url(#gSlate)" stroke="#1a1412" stroke-width="1.15" stroke-linejoin="round"/>
<path d="M593.75,1197L667.5,1200.5" fill="none" stroke="#1a1412" stroke-width="1.15" stroke-linejoin="round"/>
<path d="M499.8,1439.8C507.6,1439.5 530.7,1437.9 546.8,1438.3C562.9,1438.7 588.3,1441.4 596.6,1442.0" fill="none" stroke="#1a1412" stroke-width="1.15" stroke-linejoin="round"/>
<path d="M493.2,1459.4C500.5,1459.3 522.1,1458.3 537.0,1458.6C551.9,1458.9 574.9,1460.8 582.5,1461.3" fill="none" stroke="#1a1412" stroke-width="1.15" stroke-linejoin="round"/>
<path d="M493.2,1461.6C500.5,1461.5 522.3,1460.4 537.0,1460.8C551.7,1461.2 574.1,1463.3 581.5,1463.8" fill="none" stroke="#1a1412" stroke-width="1.15" stroke-linejoin="round"/>
<path d="M506.9,986.2L497.5,996.2L488.8,1030.0L485.6,1040.0L440.0,1222.6L400.0,1360.0L377.6,1442.0L366.3,1489.0L360.3,1515.3L360.3,1515.3C360.2,1517.5 359.2,1524.1 359.7,1528.5C360.2,1532.9 361.4,1537.3 363.5,1541.7C365.6,1546.1 368.4,1550.4 372.0,1554.8C375.6,1559.2 380.4,1563.8 385.1,1568.0C389.8,1572.2 395.3,1576.8 400.2,1580.2C405.1,1583.6 411.9,1587.2 414.3,1588.6L463.9,1400.2L550.0,1074.2L557.2,1064.9L560.0,1051.2L560.0,1051.2C557.9,1050.2 551.5,1047.7 547.5,1045.0C543.5,1042.3 540.0,1038.8 536.2,1035.0C532.5,1031.2 528.3,1026.7 525.0,1022.5C521.7,1018.3 518.8,1014.2 516.2,1010.0C513.8,1005.8 511.6,1001.5 510.0,997.5C508.4,993.5 507.4,988.1 506.9,986.2Z" fill="url(#gTeal)" stroke="#1a1412" stroke-width="1.15" stroke-linejoin="round"/>
<path d="M362.0,1537.0C363.2,1539.6 366.1,1547.4 369.5,1552.5C372.9,1557.6 377.8,1562.8 382.5,1567.5C387.2,1572.2 392.8,1577.2 398.0,1581.0C403.2,1584.8 410.9,1588.9 413.5,1590.5" fill="none" stroke="#6d7386" stroke-width="2.2"/>
<path d="M498.1,997.5C498.8,1000.0 500.3,1007.5 502.5,1012.5C504.7,1017.5 507.7,1022.1 511.2,1027.5C514.8,1032.9 519.4,1039.6 523.8,1045.0C528.1,1050.4 532.9,1055.6 537.5,1060.0C542.1,1064.4 549.2,1069.6 551.5,1071.5" fill="none" stroke="#15100e" stroke-width="5.2"/>
<path d="M498.1,997.5C498.8,1000.0 500.3,1007.5 502.5,1012.5C504.7,1017.5 507.7,1022.1 511.2,1027.5C514.8,1032.9 519.4,1039.6 523.8,1045.0C528.1,1050.4 532.9,1055.6 537.5,1060.0C542.1,1064.4 549.2,1069.6 551.5,1071.5" fill="none" stroke="#46c4c6" stroke-width="3"/>
<path d="M502.0,992.0C502.6,994.2 503.4,1000.2 505.5,1005.0C507.6,1009.8 510.9,1015.5 514.5,1021.0C518.1,1026.5 522.6,1032.6 527.0,1038.0C531.4,1043.4 536.3,1049.1 541.0,1053.5C545.7,1057.9 552.7,1062.7 555.0,1064.5" fill="none" stroke="#1a1412" stroke-width="1.15" stroke-linejoin="round"/>
<path d="M623.1,808.8L725.5,814.2L725.5,814.2C726.1,814.7 728.4,815.8 729.2,817.0C730.0,818.2 730.3,819.4 730.2,821.2C730.1,823.0 729.1,825.8 728.7,827.8C728.3,829.8 727.5,831.6 727.8,833.5C728.0,835.4 728.6,837.2 730.2,839.1C731.9,841.0 734.9,842.9 737.7,844.7C740.5,846.5 745.0,848.5 747.0,850.0C749.0,851.5 749.3,852.0 749.6,853.5C749.9,855.0 749.7,856.6 748.8,858.8C747.8,860.9 745.4,863.3 743.8,866.2C742.1,869.2 740.3,872.3 738.8,876.2C737.2,880.2 735.5,885.0 734.4,890.0C733.3,895.0 732.3,901.2 731.9,906.2C731.5,911.2 731.5,915.6 732.2,920.0C733.0,924.4 734.3,928.8 736.2,932.5C738.2,936.2 740.8,939.7 743.8,942.5C746.7,945.3 750.2,947.7 753.8,949.4C757.3,951.1 761.0,952.4 765.0,952.9C769.0,953.4 773.2,953.3 777.5,952.5C781.8,951.7 788.4,948.8 790.6,948.1L954.5,872.0L955.6,877.5L916.8,1030.0L907.5,1065.0L907.5,1065.0C902.1,1064.4 886.7,1062.2 875.0,1061.2C863.3,1060.3 850.0,1059.3 837.5,1059.5C825.0,1059.7 812.5,1060.5 800.0,1062.5C787.5,1064.5 775.0,1067.3 762.5,1071.2C750.0,1075.2 737.5,1080.2 725.0,1086.2C712.5,1092.3 700.0,1099.4 687.5,1107.5C675.0,1115.6 661.2,1125.4 650.0,1135.0C638.8,1144.6 629.2,1155.0 620.0,1165.0C610.8,1175.0 602.5,1184.6 595.0,1195.0C587.5,1205.4 580.8,1216.7 575.0,1227.5C569.2,1238.3 565.0,1247.5 560.0,1260.0C555.0,1272.5 550.4,1287.5 545.0,1302.5C539.6,1317.5 532.1,1337.1 527.5,1350.0C522.9,1362.9 522.5,1364.8 517.6,1380.0C512.7,1395.2 503.7,1422.3 497.9,1441.1C492.1,1459.9 487.9,1476.5 482.9,1492.8C477.9,1509.1 470.3,1531.1 467.8,1538.8L456.5,1539.8L452.8,1561.4L448.1,1563.3L438.7,1599.0L415.2,1595.2L414.3,1588.6L463.9,1400.2L550.0,1074.2L557.2,1064.9L560.0,1051.2L575.0,1052.5L580.0,1051.2L583.1,1045.0L585.0,1031.2L582.5,1029.4L566.2,1026.2L571.2,995.0L583.1,997.5L586.9,979.4L580.0,975.6L595.0,901.2L630.0,900.2L633.8,885.6L608.1,875.0L606.9,874.4Z" fill="#9da09e" stroke="#1a1412" stroke-width="1.15" stroke-linejoin="round"/>
<path d="M611.2,865.0C615.8,864.7 633.1,863.0 638.8,863.1C644.4,863.2 643.4,864.0 645.0,865.6C646.6,867.2 647.8,869.7 648.1,872.5C648.4,875.3 648.5,875.8 646.9,882.5C645.3,889.2 640.9,906.2 638.8,912.5C636.6,918.8 635.8,918.3 633.8,920.0C631.7,921.7 629.0,922.4 626.2,922.5C623.5,922.6 623.0,922.1 617.5,920.6C612.0,919.1 597.2,914.9 593.1,913.8" fill="none" stroke="#15100e" stroke-width="1"/>
<path d="M668.8,941.2C672.9,941.4 679.0,943.1 682.5,945.0C686.0,946.9 688.2,949.4 690.0,952.5C691.8,955.6 692.3,959.4 693.1,963.8C693.9,968.1 694.4,973.5 695.0,978.8C695.6,984.0 696.9,990.2 696.9,995.0C696.9,999.8 696.6,1003.3 695.0,1007.5C693.4,1011.7 690.8,1016.6 687.5,1020.0C684.2,1023.4 679.6,1026.3 675.0,1028.1C670.4,1029.9 665.0,1030.7 660.0,1030.6C655.0,1030.5 649.2,1029.5 645.0,1027.5C640.8,1025.5 637.2,1022.1 635.0,1018.8C632.8,1015.4 632.1,1011.9 631.9,1007.5C631.7,1003.1 632.7,997.7 633.8,992.5C634.8,987.3 636.6,981.2 638.1,976.2C639.6,971.2 640.7,966.7 642.5,962.5C644.3,958.3 646.2,954.3 648.8,951.2C651.2,948.2 654.2,946.1 657.5,944.4C660.8,942.7 664.6,941.1 668.8,941.2Z" fill="url(#gBlue)" stroke="#1a1412" stroke-width="1.15" stroke-linejoin="round"/>
<clipPath id="hc"><path d="M668.8,941.2C672.9,941.4 679.0,943.1 682.5,945.0C686.0,946.9 688.2,949.4 690.0,952.5C691.8,955.6 692.3,959.4 693.1,963.8C693.9,968.1 694.4,973.5 695.0,978.8C695.6,984.0 696.9,990.2 696.9,995.0C696.9,999.8 696.6,1003.3 695.0,1007.5C693.4,1011.7 690.8,1016.6 687.5,1020.0C684.2,1023.4 679.6,1026.3 675.0,1028.1C670.4,1029.9 665.0,1030.7 660.0,1030.6C655.0,1030.5 649.2,1029.5 645.0,1027.5C640.8,1025.5 637.2,1022.1 635.0,1018.8C632.8,1015.4 632.1,1011.9 631.9,1007.5C631.7,1003.1 632.7,997.7 633.8,992.5C634.8,987.3 636.6,981.2 638.1,976.2C639.6,971.2 640.7,966.7 642.5,962.5C644.3,958.3 646.2,954.3 648.8,951.2C651.2,948.2 654.2,946.1 657.5,944.4C660.8,942.7 664.6,941.1 668.8,941.2Z"/></clipPath>
<g clip-path="url(#hc)">
<path d="M660.0,940.0C660.8,943.3 662.5,954.6 665.0,960.0C667.5,965.4 671.2,968.8 675.0,972.5C678.8,976.2 683.7,979.6 687.5,982.5C691.3,985.4 696.2,988.8 698.0,990.0L700,940Z" fill="#0f2283" stroke="#1a1412" stroke-width="1.15" stroke-linejoin="round"/>
<path d="M671.2,943.0C673.1,944.6 679.0,949.7 682.5,952.5C686.0,955.3 690.4,958.8 692.0,960.0" fill="none" stroke="#1a1412" stroke-width="1.15" stroke-linejoin="round"/>
<path d="M647.5,956.0C648.8,955.5 652.8,953.8 655.0,953.0C657.2,952.2 660.0,951.3 661.0,951.0" fill="none" stroke="#1a1412" stroke-width="1.15" stroke-linejoin="round"/>
<path d="M632.5,1008.8C634.6,1010.6 640.6,1016.4 645.0,1020.0C649.4,1023.6 656.7,1028.8 659.0,1030.5" fill="none" stroke="#1a1412" stroke-width="1.15" stroke-linejoin="round"/>
<path d="M636.0,1020.0C637.5,1021.2 642.3,1025.2 645.0,1027.0C647.7,1028.8 650.8,1030.3 652.0,1031.0" fill="none" stroke="#1a1412" stroke-width="1.15" stroke-linejoin="round"/>
</g>
<path d="M513.8,968.8C514.8,970.6 517.7,976.2 520.0,980.0C522.3,983.8 524.6,987.5 527.5,991.2C530.4,995.0 534.2,999.0 537.5,1002.5C540.8,1006.0 544.2,1009.4 547.5,1012.5C550.8,1015.6 554.4,1019.0 557.5,1021.2C560.6,1023.5 564.8,1025.4 566.2,1026.2L582.5,1029.4L585.0,1031.2L583.1,1045.0L580.0,1051.2L575.0,1052.5L560.0,1051.2L560.0,1051.2C557.9,1050.2 551.5,1047.7 547.5,1045.0C543.5,1042.3 540.0,1038.8 536.2,1035.0C532.5,1031.2 528.3,1026.7 525.0,1022.5C521.7,1018.3 518.8,1014.2 516.2,1010.0C513.8,1005.8 511.6,1001.5 510.0,997.5C508.4,993.5 507.4,988.1 506.9,986.2L506.9,986.2L508.8,976.2L513.8,968.8Z" fill="url(#gLav)" stroke="#1a1412" stroke-width="1.15" stroke-linejoin="round"/>
<path d="M550,1017.5L566.25,1026.9L583.75,1030.6L581.9,1044.4L577.5,1043.75L562.5,1032.5Z" fill="#7b8193" stroke="#1a1412" stroke-width="1.15" stroke-linejoin="round"/>
<path d="M526.0,995.0C527.5,997.5 531.4,1005.0 535.0,1010.0C538.6,1015.0 542.9,1020.2 547.5,1025.0C552.1,1029.8 557.8,1035.0 562.5,1038.8C567.2,1042.5 573.8,1046.0 576.0,1047.5" fill="none" stroke="#1a1412" stroke-width="5.4"/>
<path d="M526.0,995.0C527.5,997.5 531.4,1005.0 535.0,1010.0C538.6,1015.0 542.9,1020.2 547.5,1025.0C552.1,1029.8 557.8,1035.0 562.5,1038.8C567.2,1042.5 573.8,1046.0 576.0,1047.5" fill="none" stroke="#c9cdda" stroke-width="3.6"/>
<path d="M517.5,927.5C518.3,929.6 520.4,935.8 522.5,940.0C524.6,944.2 527.1,948.1 530.0,952.5C532.9,956.9 536.2,961.7 540.0,966.2C543.8,970.8 548.8,976.2 552.5,980.0C556.2,983.8 559.4,986.2 562.5,988.8C565.6,991.2 569.8,994.0 571.2,995.0L569.4,1007.5L566.2,1026.2L566.2,1026.2C564.8,1025.4 560.6,1023.5 557.5,1021.2C554.4,1019.0 550.8,1015.6 547.5,1012.5C544.2,1009.4 540.8,1006.0 537.5,1002.5C534.2,999.0 530.4,995.0 527.5,991.2C524.6,987.5 522.3,983.8 520.0,980.0C517.7,976.2 514.8,970.6 513.8,968.8L513.1,958.8L514.4,941.2Z" fill="#892b86" stroke="#1a1412" stroke-width="1.15" stroke-linejoin="round"/>
<path d="M513.8,955.0C515.2,957.3 519.4,964.4 522.5,968.8C525.6,973.1 528.8,977.1 532.5,981.2C536.2,985.4 540.8,990.2 545.0,993.8C549.2,997.3 553.5,1000.2 557.5,1002.5C561.5,1004.8 566.9,1006.7 568.8,1007.5" fill="none" stroke="#2a0a29" stroke-width="2.2"/>
<path d="M527.5,907.5C527.7,909.4 527.5,915.0 528.8,918.8C530.0,922.5 532.3,925.6 535.0,930.0C537.7,934.4 541.2,940.2 545.0,945.0C548.8,949.8 553.3,954.8 557.5,958.8C561.7,962.7 566.2,965.9 570.0,968.8C573.8,971.6 578.3,974.5 580.0,975.6L607.5,979.4L603.1,997.5L571.2,995.0L571.2,995.0C569.8,994.0 565.6,991.2 562.5,988.8C559.4,986.2 556.2,983.8 552.5,980.0C548.8,976.2 543.8,970.8 540.0,966.2C536.2,961.7 532.9,956.9 530.0,952.5C527.1,948.1 524.6,944.2 522.5,940.0C520.4,935.8 518.3,929.6 517.5,927.5L520.0,915.0Z" fill="#a9aec3" stroke="#1a1412" stroke-width="1.15" stroke-linejoin="round"/>
<path d="M581.25,977.5L606.9,980L603.1,996.9L600,995.6Z" fill="#7b8193" stroke="#1a1412" stroke-width="1.15" stroke-linejoin="round"/>
<path d="M580,975.6L601.25,996.25" fill="none" stroke="#1a1412" stroke-width="1.15" stroke-linejoin="round"/>
<path d="M541.2,835.6C541.9,837.6 543.5,843.4 545.0,847.5C546.5,851.6 547.9,856.2 550.0,860.0C552.1,863.8 554.2,866.2 557.5,870.0C560.8,873.8 565.8,878.5 570.0,882.5C574.2,886.5 578.3,890.6 582.5,893.8C586.7,896.9 592.9,900.0 595.0,901.2L586.2,948.8L580.0,975.6L580.0,975.6C578.3,974.5 573.8,971.6 570.0,968.8C566.2,965.9 561.7,962.7 557.5,958.8C553.3,954.8 548.8,949.8 545.0,945.0C541.2,940.2 537.7,934.4 535.0,930.0C532.3,925.6 530.0,922.5 528.8,918.8C527.5,915.0 527.7,909.4 527.5,907.5L530.6,885.0L533.8,860.0Z" fill="#87822e" stroke="#1a1412" stroke-width="1.15" stroke-linejoin="round"/>
<path d="M536.0,848.0C537.0,850.0 540.0,855.9 541.9,860.0C543.8,864.1 544.9,868.1 547.5,872.5C550.1,876.9 553.8,881.9 557.5,886.2C561.2,890.6 565.8,895.0 570.0,898.8C574.2,902.5 578.6,906.2 582.5,908.8C586.4,911.2 591.3,912.9 593.1,913.8" fill="none" stroke="#1a1412" stroke-width="1.15" stroke-linejoin="round"/>
<path d="M532.5,890.0C533.8,892.9 536.9,902.1 540.0,907.5C543.1,912.9 547.3,917.9 551.2,922.5C555.2,927.1 559.6,931.5 563.8,935.0C567.9,938.5 572.5,941.5 576.2,943.8C580.0,946.0 584.6,947.9 586.2,948.8" fill="none" stroke="#1c1a06" stroke-width="2.4"/>
<path d="M552.5,813.0C553.8,815.2 556.9,821.5 560.0,826.0C563.1,830.5 567.1,835.4 571.2,840.0C575.4,844.6 580.6,849.6 585.0,853.8C589.4,857.9 593.9,861.6 597.5,865.0C601.1,868.4 605.3,872.8 606.9,874.4L633.8,885.6L630.0,900.2L595.0,901.2L595.0,901.2C592.9,900.0 586.7,896.9 582.5,893.8C578.3,890.6 574.2,886.5 570.0,882.5C565.8,878.5 560.8,873.8 557.5,870.0C554.2,866.2 552.1,863.8 550.0,860.0C547.9,856.2 546.5,851.6 545.0,847.5C543.5,843.4 541.9,837.6 541.2,835.6L543.8,825.0Z" fill="#393939" stroke="#1a1412" stroke-width="1.15" stroke-linejoin="round"/>
<path d="M606.9,874.4L633.75,885.6L630,900.25L627.5,899.8L597.5,866Z" fill="#232323" stroke="#15100e" stroke-width=".8" stroke-linejoin="round"/>
<path d="M571.9,740.0C572.4,741.7 573.6,746.5 575.0,750.0C576.4,753.5 577.7,757.3 580.0,761.2C582.3,765.2 585.4,769.6 588.8,773.8C592.1,777.9 596.0,782.3 600.0,786.2C604.0,790.2 608.8,794.4 612.5,797.5C616.2,800.6 620.7,803.1 622.5,805.0C624.3,806.9 623.0,808.1 623.1,808.8L606.9,874.4L606.9,874.4C605.3,872.8 601.1,868.4 597.5,865.0C593.9,861.6 589.4,857.9 585.0,853.8C580.6,849.6 575.4,844.6 571.2,840.0C567.1,835.4 563.1,830.5 560.0,826.0C556.9,821.5 553.8,815.2 552.5,813.0L557.5,796.2L565.0,767.5L571.9,740.0Z" fill="url(#gGreen)" stroke="#1a1412" stroke-width="1.15" stroke-linejoin="round"/>
<path d="M556.2,799.0C557.7,801.7 561.5,809.8 565.0,815.0C568.5,820.2 572.9,825.2 577.5,830.0C582.1,834.8 587.7,839.6 592.5,843.8C597.3,847.9 603.0,852.5 606.2,855.0C609.5,857.5 611.0,858.1 611.9,858.8" fill="none" stroke="#1a1412" stroke-width="1.15" stroke-linejoin="round"/>
<path d="M571.9,740.0C572.2,738.5 572.4,734.4 573.8,731.2C575.1,728.1 577.3,724.4 580.0,721.2C582.7,718.1 586.2,715.0 590.0,712.5C593.8,710.0 597.1,708.4 602.5,706.2C607.9,704.1 612.9,701.6 622.5,699.5C632.1,697.4 647.1,695.1 660.0,693.8C672.9,692.4 687.5,691.7 700.0,691.5C712.5,691.3 723.3,691.8 735.0,692.5C746.7,693.2 764.2,695.0 770.0,695.5L776.2,700.0L785.0,707.0L810.0,725.0L827.9,736.2L827.9,736.2C828.2,737.1 829.7,739.5 829.8,741.4C829.9,743.3 829.0,745.7 828.4,747.9C827.8,750.1 826.4,752.3 826.0,754.5C825.6,756.7 825.6,758.6 826.2,761.1C826.8,763.6 828.3,766.8 829.8,769.5C831.3,772.2 834.1,774.6 835.4,777.1C836.7,779.6 837.6,782.1 837.8,784.6C838.0,787.1 837.3,789.6 836.4,792.1C835.5,794.6 833.9,796.9 832.6,799.6C831.3,802.3 829.9,804.3 828.8,808.1C827.7,811.9 826.9,817.5 826.0,822.2C825.1,826.9 824.0,831.6 823.2,836.3C822.4,841.0 821.5,845.6 821.2,850.4C820.9,855.2 820.8,860.5 821.2,865.0C821.7,869.5 822.7,873.8 823.8,877.5C824.8,881.2 826.2,884.6 827.5,887.5C828.8,890.4 830.6,893.8 831.2,895.0L948.8,868.8L954.5,872.0L790.6,948.1L790.6,948.1C788.4,948.8 781.8,951.7 777.5,952.5C773.2,953.3 769.0,953.4 765.0,952.9C761.0,952.4 757.3,951.1 753.8,949.4C750.2,947.7 746.7,945.3 743.8,942.5C740.8,939.7 738.2,936.2 736.2,932.5C734.3,928.8 733.0,924.4 732.2,920.0C731.5,915.6 731.5,911.2 731.9,906.2C732.3,901.2 733.3,895.0 734.4,890.0C735.5,885.0 737.2,880.2 738.8,876.2C740.3,872.3 742.1,869.2 743.8,866.2C745.4,863.3 747.8,860.9 748.8,858.8C749.7,856.6 749.9,855.0 749.6,853.5C749.3,852.0 749.0,851.5 747.0,850.0C745.0,848.5 740.5,846.5 737.7,844.7C734.9,842.9 731.9,841.0 730.2,839.1C728.6,837.2 728.0,835.4 727.8,833.5C727.5,831.6 728.3,829.8 728.7,827.8C729.1,825.8 730.1,823.0 730.2,821.2C730.3,819.4 730.0,818.2 729.2,817.0C728.4,815.8 726.1,814.7 725.5,814.2L623.1,808.8L623.1,808.8C623.0,808.1 624.3,806.9 622.5,805.0C620.7,803.1 616.2,800.6 612.5,797.5C608.8,794.4 604.0,790.2 600.0,786.2C596.0,782.3 592.1,777.9 588.8,773.8C585.4,769.6 582.3,765.2 580.0,761.2C577.7,757.3 576.4,753.5 575.0,750.0C573.6,746.5 572.4,741.7 571.9,740.0Z" fill="#be1c0d" stroke="#1a1412" stroke-width="1.15" stroke-linejoin="round"/>
<path d="M827.9,736.2C825.1,736.0 818.5,735.3 811.0,735.0C803.5,734.7 792.2,734.3 782.8,734.3C773.4,734.3 762.4,734.7 754.6,735.2C746.8,735.7 742.1,736.1 735.8,737.1C729.5,738.1 722.5,739.8 717.0,741.4C711.5,743.0 706.8,745.0 702.9,747.0C699.0,749.0 695.8,751.4 693.5,753.6C691.2,755.8 690.2,758.2 689.3,760.2C688.4,762.2 688.2,763.6 688.3,765.8C688.4,768.0 688.7,770.6 689.7,773.3C690.7,776.0 692.5,779.0 694.4,781.8C696.3,784.6 698.5,787.2 701.0,790.2C703.5,793.2 706.5,796.5 709.5,799.6C712.5,802.7 716.2,806.6 718.9,809.0C721.6,811.4 724.4,813.3 725.5,814.2L725.5,814.2C726.1,814.7 728.4,815.8 729.2,817.0C730.0,818.2 730.3,819.4 730.2,821.2C730.1,823.0 729.1,825.8 728.7,827.8C728.3,829.8 727.5,831.6 727.8,833.5C728.0,835.4 728.6,837.2 730.2,839.1C731.9,841.0 734.9,842.9 737.7,844.7C740.5,846.5 745.0,848.5 747.0,850.0C749.0,851.5 749.3,852.0 749.6,853.5C749.9,855.0 749.7,856.6 748.8,858.8C747.8,860.9 745.4,863.3 743.8,866.2C742.1,869.2 740.3,872.3 738.8,876.2C737.2,880.2 735.5,885.0 734.4,890.0C733.3,895.0 732.3,901.2 731.9,906.2C731.5,911.2 731.5,915.6 732.2,920.0C733.0,924.4 734.3,928.8 736.2,932.5C738.2,936.2 740.8,939.7 743.8,942.5C746.7,945.3 750.2,947.7 753.8,949.4C757.3,951.1 761.0,952.4 765.0,952.9C769.0,953.4 773.2,953.3 777.5,952.5C781.8,951.7 788.4,948.8 790.6,948.1L954.5,872.0L948.8,868.8L831.2,895.0L831.2,895.0C830.6,893.8 828.8,890.4 827.5,887.5C826.2,884.6 824.8,881.2 823.8,877.5C822.7,873.8 821.7,869.5 821.2,865.0C820.8,860.5 820.9,855.2 821.2,850.4C821.5,845.6 822.4,841.0 823.2,836.3C824.0,831.6 825.1,826.9 826.0,822.2C826.9,817.5 827.7,811.9 828.8,808.1C829.9,804.3 831.3,802.3 832.6,799.6C833.9,796.9 835.5,794.6 836.4,792.1C837.3,789.6 838.0,787.1 837.8,784.6C837.6,782.1 836.7,779.6 835.4,777.1C834.1,774.6 831.3,772.2 829.8,769.5C828.3,766.8 826.8,763.6 826.2,761.1C825.6,758.6 825.6,756.7 826.0,754.5C826.4,752.3 827.8,750.1 828.4,747.9C829.0,745.7 829.9,743.3 829.8,741.4C829.7,739.5 828.2,737.1 827.9,736.2Z" fill="url(#gBowl)" stroke="#1a1412" stroke-width="1.15" stroke-linejoin="round"/>
<clipPath id="bc"><path d="M827.9,736.2C825.1,736.0 818.5,735.3 811.0,735.0C803.5,734.7 792.2,734.3 782.8,734.3C773.4,734.3 762.4,734.7 754.6,735.2C746.8,735.7 742.1,736.1 735.8,737.1C729.5,738.1 722.5,739.8 717.0,741.4C711.5,743.0 706.8,745.0 702.9,747.0C699.0,749.0 695.8,751.4 693.5,753.6C691.2,755.8 690.2,758.2 689.3,760.2C688.4,762.2 688.2,763.6 688.3,765.8C688.4,768.0 688.7,770.6 689.7,773.3C690.7,776.0 692.5,779.0 694.4,781.8C696.3,784.6 698.5,787.2 701.0,790.2C703.5,793.2 706.5,796.5 709.5,799.6C712.5,802.7 716.2,806.6 718.9,809.0C721.6,811.4 724.4,813.3 725.5,814.2L725.5,814.2C726.1,814.7 728.4,815.8 729.2,817.0C730.0,818.2 730.3,819.4 730.2,821.2C730.1,823.0 729.1,825.8 728.7,827.8C728.3,829.8 727.5,831.6 727.8,833.5C728.0,835.4 728.6,837.2 730.2,839.1C731.9,841.0 734.9,842.9 737.7,844.7C740.5,846.5 745.0,848.5 747.0,850.0C749.0,851.5 749.3,852.0 749.6,853.5C749.9,855.0 749.7,856.6 748.8,858.8C747.8,860.9 745.4,863.3 743.8,866.2C742.1,869.2 740.3,872.3 738.8,876.2C737.2,880.2 735.5,885.0 734.4,890.0C733.3,895.0 732.3,901.2 731.9,906.2C731.5,911.2 731.5,915.6 732.2,920.0C733.0,924.4 734.3,928.8 736.2,932.5C738.2,936.2 740.8,939.7 743.8,942.5C746.7,945.3 750.2,947.7 753.8,949.4C757.3,951.1 761.0,952.4 765.0,952.9C769.0,953.4 773.2,953.3 777.5,952.5C781.8,951.7 788.4,948.8 790.6,948.1L954.5,872.0L948.8,868.8L831.2,895.0L831.2,895.0C830.6,893.8 828.8,890.4 827.5,887.5C826.2,884.6 824.8,881.2 823.8,877.5C822.7,873.8 821.7,869.5 821.2,865.0C820.8,860.5 820.9,855.2 821.2,850.4C821.5,845.6 822.4,841.0 823.2,836.3C824.0,831.6 825.1,826.9 826.0,822.2C826.9,817.5 827.7,811.9 828.8,808.1C829.9,804.3 831.3,802.3 832.6,799.6C833.9,796.9 835.5,794.6 836.4,792.1C837.3,789.6 838.0,787.1 837.8,784.6C837.6,782.1 836.7,779.6 835.4,777.1C834.1,774.6 831.3,772.2 829.8,769.5C828.3,766.8 826.8,763.6 826.2,761.1C825.6,758.6 825.6,756.7 826.0,754.5C826.4,752.3 827.8,750.1 828.4,747.9C829.0,745.7 829.9,743.3 829.8,741.4C829.7,739.5 828.2,737.1 827.9,736.2Z"/></clipPath>
<g clip-path="url(#bc)" fill="none">
<path d="M828.8,746.1C824.3,745.6 810.8,743.9 801.6,743.4C792.3,743.0 782.8,743.0 773.4,743.4C764.0,743.9 753.0,744.8 745.2,746.1C737.4,747.3 732.3,748.7 726.4,750.8C720.4,752.8 714.2,755.8 709.5,758.3C704.8,760.8 700.9,763.3 698.2,765.8C695.5,768.3 694.1,770.8 693.5,773.3C692.9,775.8 694.4,779.6 694.6,780.8" stroke="#7c0f07" stroke-width="7" opacity=".55" transform="translate(1.5,3)"/>
<path d="M826.5,754.0C822.3,753.7 810.4,752.3 801.6,751.9C792.7,751.5 782.8,751.4 773.4,751.7C764.0,752.0 754.6,752.2 745.2,753.8C735.8,755.3 724.0,758.5 717.0,761.1C709.9,763.6 706.3,766.6 702.9,769.1C699.4,771.6 697.1,773.5 696.3,776.1C695.5,778.7 697.9,783.2 698.2,784.6" stroke="#c42513" stroke-width="5" opacity=".5" transform="translate(0,5)"/>
<path d="M834.5,775.2C827.4,774.8 805.5,772.8 792.2,772.8C778.9,772.8 764.8,773.7 754.6,775.2C744.4,776.7 737.4,779.3 731.1,781.8C724.8,784.3 720.4,787.4 717.0,790.2C713.6,793.0 711.9,797.3 710.9,798.7" stroke="#7c0f07" stroke-width="9" opacity=".5" transform="translate(2,6)"/>
<path d="M835.4,794.5C828.2,794.1 804.1,792.7 792.2,792.6C780.3,792.5 772.6,792.8 764.0,794.0C755.4,795.2 746.8,797.6 740.5,799.6C734.2,801.7 729.8,804.2 726.4,806.2C722.9,808.2 720.9,810.9 719.8,811.8" stroke="#7a0e07" stroke-width="8" opacity=".6" transform="translate(0,4)"/>
<path d="M829.8,768.6C823.5,768.2 804.7,766.3 792.2,766.3C779.6,766.2 765.6,766.8 754.6,768.1C743.6,769.5 733.9,772.0 726.4,774.2C718.9,776.5 713.5,779.4 709.5,781.8C705.4,784.1 703.2,787.2 702.0,788.3" stroke="#c42513" stroke-width="5" opacity=".45" transform="translate(0,-4)"/>
<path d="M828.8,746.1C824.3,745.6 810.8,743.9 801.6,743.4C792.3,743.0 782.8,743.0 773.4,743.4C764.0,743.9 753.0,744.8 745.2,746.1C737.4,747.3 732.3,748.7 726.4,750.8C720.4,752.8 714.2,755.8 709.5,758.3C704.8,760.8 700.9,763.3 698.2,765.8C695.5,768.3 694.1,770.8 693.5,773.3C692.9,775.8 694.4,779.6 694.6,780.8" stroke="#15100e" stroke-width="1.3"/>
<path d="M826.5,754.0C822.3,753.7 810.4,752.3 801.6,751.9C792.7,751.5 782.8,751.4 773.4,751.7C764.0,752.0 754.6,752.2 745.2,753.8C735.8,755.3 724.0,758.5 717.0,761.1C709.9,763.6 706.3,766.6 702.9,769.1C699.4,771.6 697.1,773.5 696.3,776.1C695.5,778.7 697.9,783.2 698.2,784.6" stroke="#15100e" stroke-width="1.3"/>
<path d="M829.8,768.6C823.5,768.2 804.7,766.3 792.2,766.3C779.6,766.2 765.6,766.8 754.6,768.1C743.6,769.5 733.9,772.0 726.4,774.2C718.9,776.5 713.5,779.4 709.5,781.8C705.4,784.1 703.2,787.2 702.0,788.3" stroke="#15100e" stroke-width="1.3"/>
<path d="M834.5,775.2C827.4,774.8 805.5,772.8 792.2,772.8C778.9,772.8 764.8,773.7 754.6,775.2C744.4,776.7 737.4,779.3 731.1,781.8C724.8,784.3 720.4,787.4 717.0,790.2C713.6,793.0 711.9,797.3 710.9,798.7" stroke="#15100e" stroke-width="1.3"/>
<path d="M835.4,794.5C828.2,794.1 804.1,792.7 792.2,792.6C780.3,792.5 772.6,792.8 764.0,794.0C755.4,795.2 746.8,797.6 740.5,799.6C734.2,801.7 729.8,804.2 726.4,806.2C722.9,808.2 720.9,810.9 719.8,811.8" stroke="#15100e" stroke-width="2.2"/>
<path d="M832.6,802.4C825.9,802.2 803.6,801.0 792.2,801.0C780.7,801.0 772.4,801.4 764.0,802.4C755.5,803.5 747.4,805.4 741.4,807.1C735.5,808.9 731.2,811.3 728.3,812.8C725.4,814.3 724.7,815.5 724.0,816.1" stroke="#15100e" stroke-width="1.3"/>
<path d="M822.3,831.1C817.2,830.7 801.9,828.9 792.2,828.6C782.5,828.3 771.8,828.8 764.0,829.2C756.2,829.7 750.7,830.2 745.2,831.1C739.7,832.0 733.4,834.0 731.1,834.6" stroke="#15100e" stroke-width="1.3"/>
</g>
<path d="M790.6,948.1C789.5,947.4 786.4,945.9 783.8,943.8C781.1,941.6 777.3,937.9 775.0,935.0C772.7,932.1 770.9,929.0 770.0,926.2C769.1,923.5 768.8,921.0 769.4,918.8C770.0,916.5 771.8,914.3 773.8,912.5C775.7,910.7 777.9,909.4 781.2,908.1C784.6,906.9 788.5,906.4 793.8,905.0C799.0,903.6 806.2,901.7 812.5,900.0C818.8,898.3 828.1,895.8 831.2,895.0L948.8,868.8L954.5,872.0Z" fill="url(#gCone)" stroke="none"/>
<path d="M790.6,948.1C789.5,947.4 786.4,945.9 783.8,943.8C781.1,941.6 777.3,937.9 775.0,935.0C772.7,932.1 770.9,929.0 770.0,926.2C769.1,923.5 768.8,921.0 769.4,918.8C770.0,916.5 771.8,914.3 773.8,912.5C775.7,910.7 777.9,909.4 781.2,908.1C784.6,906.9 788.5,906.4 793.8,905.0C799.0,903.6 806.2,901.7 812.5,900.0C818.8,898.3 828.1,895.8 831.2,895.0L948.75,868.75" fill="none" stroke="#1a1412" stroke-width="1.15" stroke-linejoin="round"/>
<path d="M954.5,872L790.6,948.1" fill="none" stroke="#1a1412" stroke-width="1.15" stroke-linejoin="round"/>
<path d="M948.8,876.9L795.6,955.1" stroke="#ff0000" stroke-width="3.1" stroke-linecap="round" fill="none" stroke-dasharray="21 17.8"/>
<path d="M783.1,961.5L794.3,948.2L800.4,960.3Z" fill="#ff0000"/>
<path d="M773.8,963.8L757.6,961.4" stroke="#ff0000" stroke-width="3.1" stroke-linecap="round" fill="none"/>
<path d="M746.2,959.8L760.6,954.8L758.6,968.6Z" fill="#ff0000"/>
<path d="M720.6,915.6L726.6,892.9" stroke="#ff0000" stroke-width="3.1" stroke-linecap="round" fill="none"/>
<path d="M729.6,881.2L732.8,896.6L719.3,893.0Z" fill="#ff0000"/>
<path d="M744.4,860.0L736.5,850.1" stroke="#ff0000" stroke-width="3.1" stroke-linecap="round" fill="none"/>
<path d="M730.0,841.9L742.9,847.6L732.7,855.7Z" fill="#ff0000"/>
<path d="M722.5,846.2L722.2,831.0" stroke="#ff0000" stroke-width="3.1" stroke-linecap="round" fill="none"/>
<path d="M722.0,820.0L728.7,832.9L715.7,833.1Z" fill="#ff0000"/>
<path d="M721.2,820.3L645.4,811.7" stroke="#ff0000" stroke-width="3.1" stroke-linecap="round" fill="none" stroke-dasharray="24 14"/>
<path d="M634.5,810.5L648.1,805.5L646.7,818.4Z" fill="#ff0000"/>
<circle cx="954.5" cy="872" r="7.2" fill="#ff0000"/>
<circle cx="628.5" cy="807.25" r="7.2" fill="#ff0000"/>
<text class="lb" x="959.5" y="865.75">A</text>
<text class="lb" x="615.3" y="852.75">B</text>
</g>
<text class="tk" x="150.6" y="1627.4" textLength="103.5" lengthAdjust="spacingAndGlyphs">270</text>
<text class="tk" x="150.6" y="1497.3" textLength="103.5" lengthAdjust="spacingAndGlyphs">280</text>
<text class="tk" x="150.6" y="1367.2" textLength="103.5" lengthAdjust="spacingAndGlyphs">290</text>
<text class="tk" x="150.6" y="1237.1" textLength="103.5" lengthAdjust="spacingAndGlyphs">300</text>
<text class="tk" x="150.6" y="1107.0" textLength="103.5" lengthAdjust="spacingAndGlyphs">310</text>
<text class="tk" x="150.6" y="976.9" textLength="103.5" lengthAdjust="spacingAndGlyphs">320</text>
<text class="tk" x="150.6" y="846.8" textLength="103.5" lengthAdjust="spacingAndGlyphs">330</text>
<text class="tk" x="150.6" y="716.7" textLength="103.5" lengthAdjust="spacingAndGlyphs">340</text>
<text class="tk" x="150.6" y="586.6" textLength="103.5" lengthAdjust="spacingAndGlyphs">350</text>
<text class="tk" x="150.6" y="456.5" textLength="103.5" lengthAdjust="spacingAndGlyphs">360</text>
<text class="tk" x="150.6" y="326.4" textLength="103.5" lengthAdjust="spacingAndGlyphs">370</text>
<text class="tk" x="150.6" y="196.3" textLength="103.5" lengthAdjust="spacingAndGlyphs">380</text>
<text class="tk" x="150.6" y="66.2" textLength="103.5" lengthAdjust="spacingAndGlyphs">390</text>
<text class="tk" x="270.1" y="1758" textLength="34.5" lengthAdjust="spacingAndGlyphs">0</text>
<text class="tk" x="728.7" y="1758" textLength="69.0" lengthAdjust="spacingAndGlyphs">20</text>
<text class="tk" x="1204.5" y="1758" textLength="69.0" lengthAdjust="spacingAndGlyphs">40</text>
<text class="tk" x="1680.3" y="1758" textLength="69.0" lengthAdjust="spacingAndGlyphs">60</text>
<text class="tk" x="2156.1" y="1758" textLength="69.0" lengthAdjust="spacingAndGlyphs">80</text>
<text class="tt" x="1064.7" y="1873.5" textLength="466" lengthAdjust="spacingAndGlyphs">distance(mm)</text>
<text class="tt" transform="translate(85.5,1119.5) rotate(-90)">temperature(°C)</text>
<rect x="1565.2" y="1276.3" width="699.8" height="322.7" fill="#fff" stroke="#000" stroke-width="2.2"/>
<path d="M1577.5,1332.3H1747" stroke="#e41a1c" stroke-width="7.4" stroke-linecap="round" fill="none"/>
<text class="tt" x="1789.5" y="1362.7" textLength="467.5" lengthAdjust="spacingAndGlyphs">UNCOATED</text>
<path d="M1577.5,1436.3H1747" stroke="#377eb8" stroke-width="7.4" stroke-linecap="round" fill="none"/>
<text class="tt" x="1789.5" y="1466.7" textLength="358.9" lengthAdjust="spacingAndGlyphs">GZO/YSZ</text>
<path d="M1577.5,1540.3H1747" stroke="#4daf4a" stroke-width="7.4" stroke-linecap="round" fill="none"/>
<text class="tt" x="1789.5" y="1570.5" textLength="160.6" lengthAdjust="spacingAndGlyphs">YSZ</text>
</svg></body></html>
